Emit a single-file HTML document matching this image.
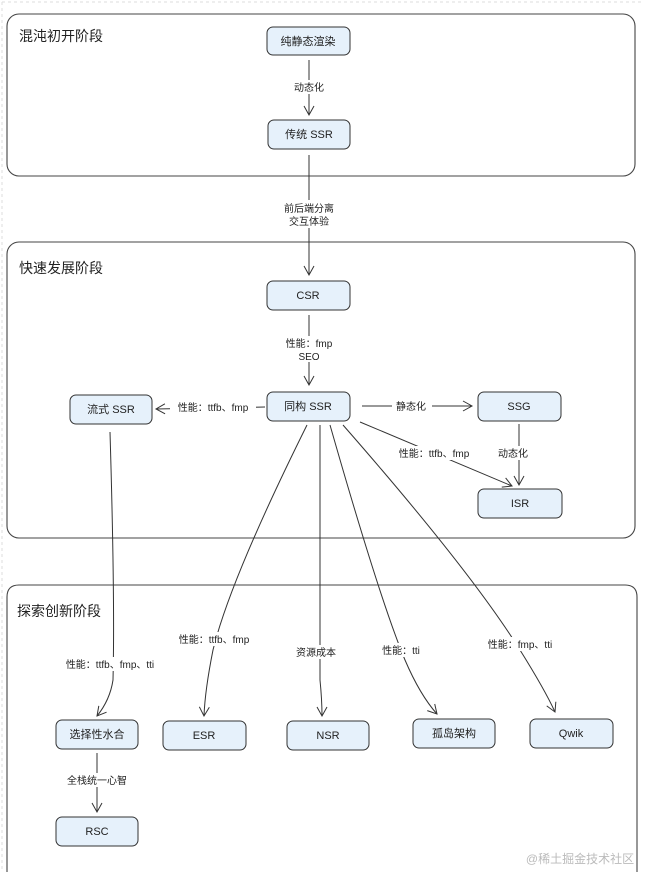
<!DOCTYPE html>
<html><head><meta charset="utf-8"><style>
body{margin:0;background:#fff;}
svg text{font-family:"Liberation Sans","Noto Sans CJK SC",sans-serif;fill:#222;}
</style></head><body>
<svg width="645" height="872" viewBox="0 0 645 872" xmlns="http://www.w3.org/2000/svg">
<defs>
<marker id="a" markerWidth="12" markerHeight="12" refX="10" refY="6" orient="auto" markerUnits="userSpaceOnUse">
<path d="M1,1 L10,6 L1,11" fill="none" stroke="#333" stroke-width="1"/></marker>
</defs>
<line x1="2" y1="2" x2="643" y2="2" stroke="#ddd" stroke-dasharray="3,3"/>
<line x1="2" y1="2" x2="2" y2="872" stroke="#ddd" stroke-dasharray="3,3"/>
<g fill="none" stroke="#444" stroke-width="1.1">
<rect x="7" y="14" width="628" height="162" rx="12"/>
<rect x="7" y="242" width="628" height="296" rx="12"/>
<path d="M7,880 V597 Q7,585 19,585 H625 Q637,585 637,597 V880"/>
</g>
<g font-size="14">
<text x="19" y="41">混沌初开阶段</text>
<text x="19" y="273">快速发展阶段</text>
<text x="17" y="616">探索创新阶段</text>
</g>
<g fill="#e6f1fb" stroke="#333" stroke-width="1">
<rect x="267" y="27" width="83" height="28" rx="6"/>
<rect x="268" y="120" width="82" height="29" rx="6"/>
<rect x="267" y="281" width="83" height="29" rx="6"/>
<rect x="267" y="392" width="83" height="29" rx="6"/>
<rect x="70" y="395" width="82" height="29" rx="6"/>
<rect x="478" y="392" width="83" height="29" rx="6"/>
<rect x="478" y="489" width="84" height="29" rx="6"/>
<rect x="56" y="720" width="82" height="29" rx="6"/>
<rect x="163" y="721" width="83" height="29" rx="6"/>
<rect x="287" y="721" width="82" height="29" rx="6"/>
<rect x="413" y="719" width="82" height="29" rx="6"/>
<rect x="530" y="719" width="83" height="29" rx="6"/>
<rect x="56" y="817" width="82" height="29" rx="6"/>
</g>
<g font-size="11" text-anchor="middle">
<text x="308" y="45">纯静态渲染</text>
<text x="309" y="138">传统 SSR</text>
<text x="308" y="299">CSR</text>
<text x="308" y="410">同构 SSR</text>
<text x="111" y="413">流式 SSR</text>
<text x="519" y="410">SSG</text>
<text x="520" y="507">ISR</text>
<text x="97" y="738">选择性水合</text>
<text x="204" y="739">ESR</text>
<text x="328" y="739">NSR</text>
<text x="454" y="737">孤岛架构</text>
<text x="571" y="737">Qwik</text>
<text x="97" y="835">RSC</text>
</g>
<g fill="none" stroke="#333" stroke-width="1" marker-end="url(#a)">
<line x1="309" y1="60" x2="309" y2="115"/>
<line x1="309" y1="155" x2="309" y2="275"/>
<line x1="309" y1="315" x2="309" y2="385"/>
<line x1="265" y1="407" x2="156" y2="409"/>
<line x1="362" y1="406" x2="472" y2="406"/>
<line x1="519" y1="424" x2="519" y2="485"/>
<line x1="360" y1="422" x2="512" y2="486"/>
<path d="M110,432 Q115,600 113,680 Q110,700 97,716"/>
<path d="M307,425 Q230,580 213,650 Q205,690 204,716"/>
<path d="M320,425 L320,680 Q322,700 322,716"/>
<path d="M330,425 Q380,600 405,660 Q420,695 437,714"/>
<path d="M343,425 Q470,570 520,650 Q545,690 555,712"/>
<line x1="97" y1="753" x2="97" y2="812"/>
</g>
<g font-size="10" text-anchor="middle">
<rect x="286" y="80" width="46" height="14" fill="#fff"/><text x="309" y="91">动态化</text>
<rect x="280" y="200" width="58" height="28" fill="#fff"/><text x="309" y="212">前后端分离</text><text x="309" y="225">交互体验</text>
<rect x="284" y="336" width="50" height="26" fill="#fff"/><text x="309" y="347">性能：fmp</text><text x="309" y="360">SEO</text>
<rect x="170" y="400" width="86" height="14" fill="#fff"/><text x="213" y="411">性能：ttfb、fmp</text>
<rect x="392" y="399" width="40" height="14" fill="#fff"/><text x="411" y="410">静态化</text>
<rect x="496" y="446" width="34" height="14" fill="#fff"/><text x="513" y="457">动态化</text>
<rect x="392" y="446" width="84" height="14" fill="#fff"/><text x="434" y="457">性能：ttfb、fmp</text>
<rect x="50" y="657" width="120" height="14" fill="#fff"/><text x="110" y="668">性能：ttfb、fmp、tti</text>
<rect x="172" y="632" width="84" height="14" fill="#fff"/><text x="214" y="643">性能：ttfb、fmp</text>
<rect x="292" y="645" width="48" height="14" fill="#fff"/><text x="316" y="656">资源成本</text>
<rect x="378" y="643" width="46" height="14" fill="#fff"/><text x="401" y="654">性能：tti</text>
<rect x="483" y="637" width="74" height="14" fill="#fff"/><text x="520" y="648">性能：fmp、tti</text>
<rect x="62" y="773" width="70" height="14" fill="#fff"/><text x="97" y="784">全栈统一心智</text>
</g>
<text x="580" y="863" font-size="12" text-anchor="middle" fill="#bbb" style="fill:#bbb">@稀土掘金技术社区</text>
</svg>
</body></html>
